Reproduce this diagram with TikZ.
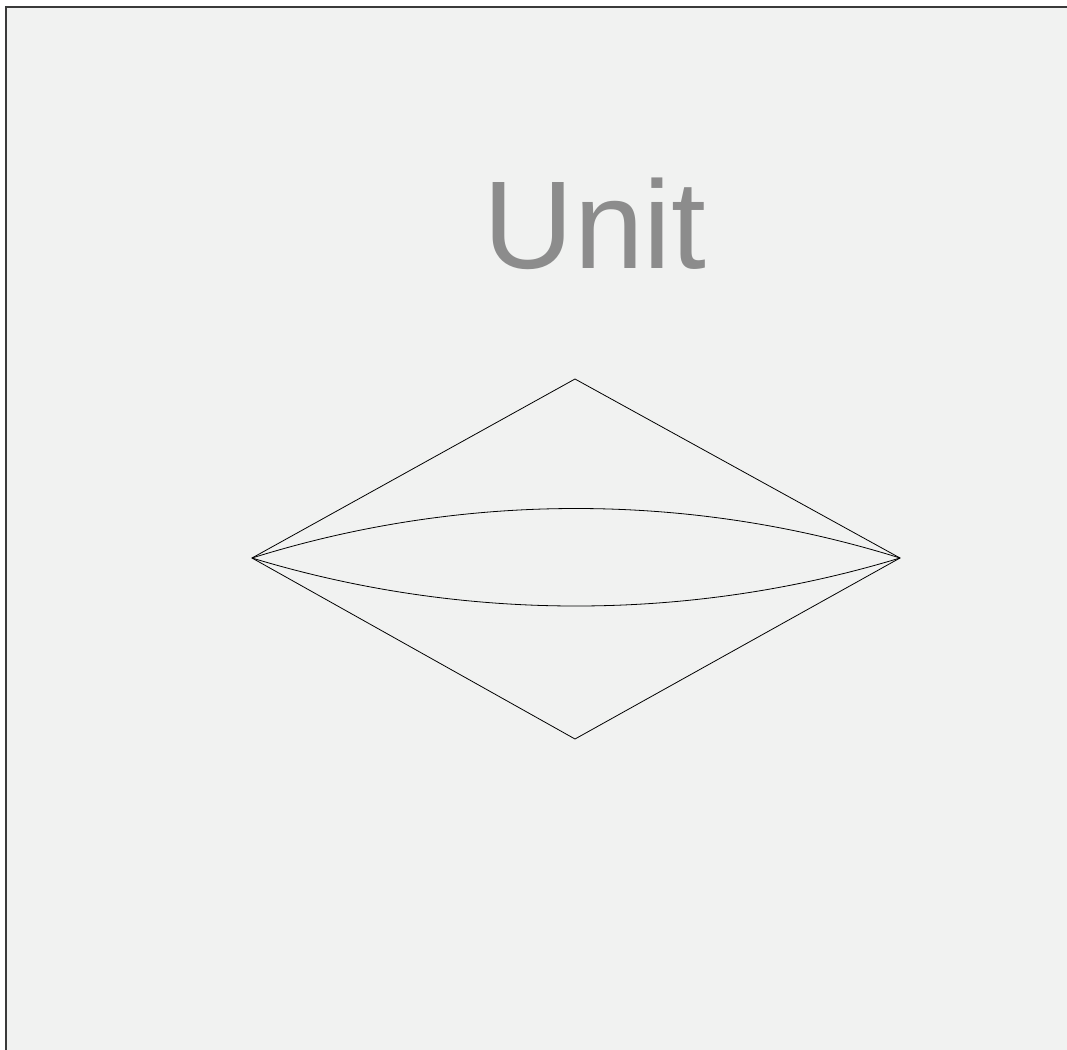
\documentclass[tikz,border=0pt]{standalone}
\usepackage{fontspec}
\setmainfont{Liberation Sans}
\usetikzlibrary{positioning, calc}
\definecolor{cpanel}{HTML}{F1F2F1}
\definecolor{cframe}{HTML}{3A3A3A}
\definecolor{ctext}{HTML}{8C8C8C}
\tikzset{
  every picture/.style={line width=0.8pt},
  panel/.style={draw=cframe, fill=cpanel, line width=1.6pt},
  edge/.style={draw=black, line width=0.8pt},
  title/.style={font=\fontsize{125}{125}\selectfont, text=ctext, anchor=base, inner sep=0pt},
}
\begin{document}
\begin{tikzpicture}[x=1pt, y=-1pt,
  vtx/.style={inner sep=0pt, minimum size=0pt}]
  \useasboundingbox (0,0) rectangle (1067,1049);
  \fill[white] (0,0) rectangle (1067,1049);
  \draw[panel] (6,7) rectangle (1075,1060);
  \node[title] (unit) at (595,268) {Unit};
  % diamond corners
  \coordinate (l) at (252,558);
  \coordinate (r) at (900,558);
  \coordinate (t) at (575,379);
  \coordinate (b) at (575,739);
  \draw[edge] (l) -- (t) -- (r) -- (b) -- cycle;
  % lens
  \draw[edge] (l) .. controls (463,492) and (689,492) .. (r);
  \draw[edge] (l) .. controls (463,622) and (689,622) .. (r);
\end{tikzpicture}
\end{document}
